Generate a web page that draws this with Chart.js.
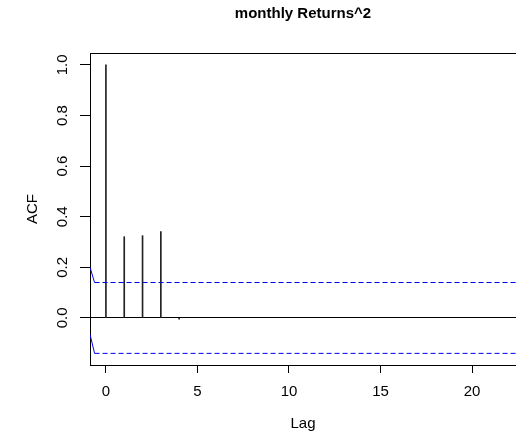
<!DOCTYPE html>
<html>
<head>
<meta charset="utf-8">
<script src="https://cdn.jsdelivr.net/npm/chart.js@4.4.0/dist/chart.umd.min.js"></script>
<style>
  html, body { margin: 0; padding: 0; background: #fff; overflow: hidden; }
</style>
</head>
<body>
<canvas id="chart" width="516" height="434"></canvas>
<script>
// acf by lag
var lags = [0, 1, 2, 3, 4];
var acfValues = [1.0, 0.321, 0.325, 0.341, -0.005];
// confidence bounds, with the short slant at the left edge
var ciLags = [-0.87, -0.62, 22.4];
var ciUpper = [0.2, 0.14, 0.14];
var ciLower = [-0.065, -0.14, -0.14];
var xTicks = [0, 5, 10, 15, 20];
var yTicks = [0, 0.2, 0.4, 0.6, 0.8, 1.0];

var fontFamily = "'Liberation Sans', Arial, Helvetica, sans-serif";

function points(xs, ys) {
  return xs.map(function (x, i) { return { x: x, y: ys[i] }; });
}

// top border and rotated y tick labels
var frame = {
  id: "frame",
  afterDraw: function (chart) {
    var ctx = chart.ctx;
    var area = chart.chartArea;
    var yScale = chart.scales.y;
    ctx.save();
    ctx.strokeStyle = "#000";
    ctx.lineWidth = 1;
    ctx.beginPath();
    ctx.moveTo(area.left, area.top + 0.5);
    ctx.lineTo(area.right, area.top + 0.5);
    ctx.stroke();
    ctx.font = "15px " + fontFamily;
    ctx.fillStyle = "#000";
    ctx.textAlign = "center";
    ctx.textBaseline = "alphabetic";
    yTicks.forEach(function (v) {
      var py = yScale.getPixelForValue(v);
      ctx.save();
      ctx.translate(67, py);
      ctx.rotate(-Math.PI / 2);
      ctx.fillText(v.toFixed(1), 0, 0);
      ctx.restore();
    });
    ctx.restore();
  }
};

var myChart = new Chart(document.getElementById("chart"), {
  type: "bar",
  data: {
    datasets: [
      {
        type: "bar",
        data: points(lags, acfValues),
        backgroundColor: "#222",
        barThickness: 1,
        order: 2
      },
      {
        type: "line",
        data: points(ciLags, ciUpper),
        borderColor: "#0000ff",
        borderWidth: 1,
        borderDash: [5, 3],
        pointRadius: 0,
        segment: { borderDash: function (c) { return c.p0DataIndex === 0 ? [] : [5, 3]; } },
        order: 1
      },
      {
        type: "line",
        data: points(ciLags, ciLower),
        borderColor: "#0000ff",
        borderWidth: 1,
        borderDash: [5, 3],
        pointRadius: 0,
        segment: { borderDash: function (c) { return c.p0DataIndex === 0 ? [] : [5, 3]; } },
        order: 1
      }
    ]
  },
  options: {
    responsive: false,
    animation: false,
    events: [],
    layout: { padding: 0 },
    plugins: {
      legend: { display: false },
      tooltip: { enabled: false },
      title: {
        display: true,
        text: "monthly Returns^2",
        fullSize: false,
        color: "#000",
        font: { family: fontFamily, size: 15, weight: "bold" },
        padding: { top: 5, bottom: 30 }
      }
    },
    scales: {
      x: {
        type: "linear",
        min: -0.87,
        max: 22.4,
        offset: false,
        afterBuildTicks: function (s) {
          s.ticks = xTicks.map(function (v) { return { value: v }; });
        },
        afterFit: function (s) { s.height = 69; },
        ticks: {
          color: "#000",
          font: { family: fontFamily, size: 15 },
          padding: 10,
          maxRotation: 0,
          autoSkip: false
        },
        grid: { display: true, offset: false, drawOnChartArea: false, tickLength: 8, color: "#000" },
        border: { display: true, color: "#000" },
        title: {
          display: true,
          text: "Lag",
          color: "#000",
          font: { family: fontFamily, size: 15 },
          padding: { top: 1, bottom: 1 }
        }
      },
      y: {
        type: "linear",
        min: -0.186,
        max: 1.047,
        afterBuildTicks: function (s) {
          s.ticks = yTicks.map(function (v) { return { value: v }; });
        },
        afterFit: function (s) { s.width = 90; },
        ticks: { display: false },
        grid: {
          display: true,
          drawOnChartArea: true,
          tickLength: 10,
          tickColor: "#000",
          color: function (c) { return c.tick && c.tick.value === 0 ? "#000" : "rgba(0,0,0,0)"; }
        },
        border: { display: true, color: "#000" },
        title: {
          display: true,
          text: "ACF",
          color: "#000",
          font: { family: fontFamily, size: 15 },
          padding: { top: 24, bottom: 24 }
        }
      }
    }
  },
  plugins: [frame]
});
</script>
</body>
</html>
